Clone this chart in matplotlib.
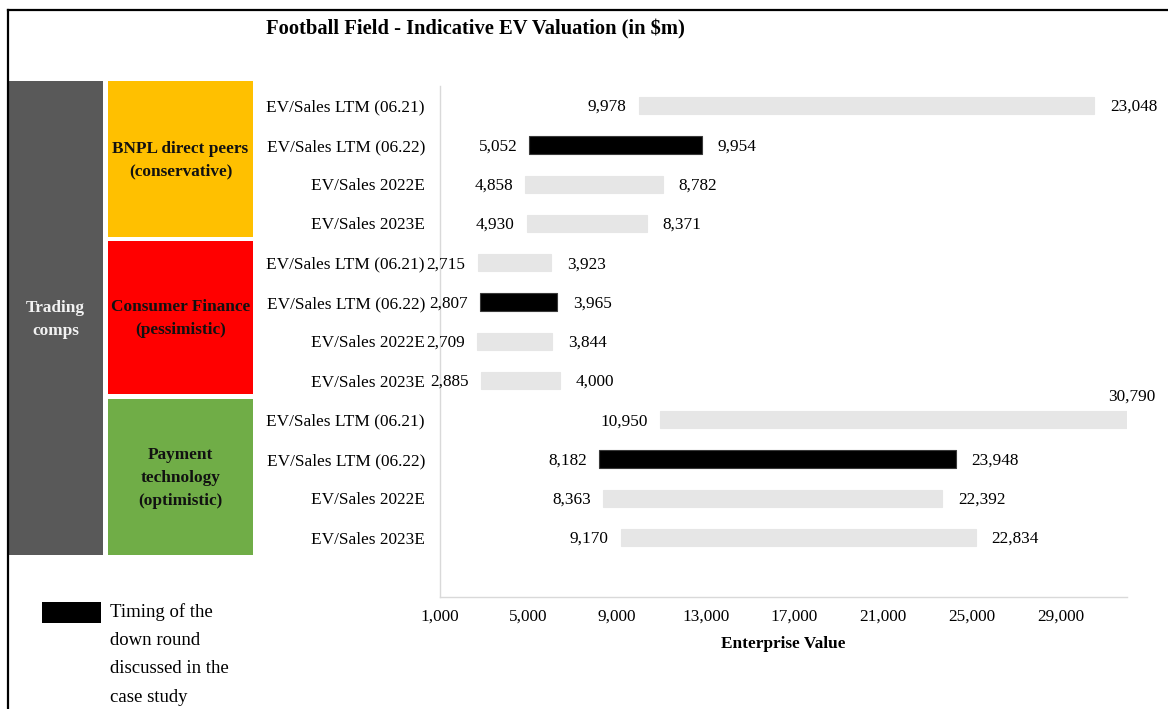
import matplotlib
matplotlib.use("Agg")
import matplotlib.pyplot as plt
from matplotlib.patches import Rectangle
from matplotlib.lines import Line2D

plt.rcParams['font.family'] = ['Liberation Serif', 'DejaVu Serif']

# ---------------- data ----------------
categories = [
    "EV/Sales LTM (06.21)", "EV/Sales LTM (06.22)", "EV/Sales 2022E", "EV/Sales 2023E",
    "EV/Sales LTM (06.21)", "EV/Sales LTM (06.22)", "EV/Sales 2022E", "EV/Sales 2023E",
    "EV/Sales LTM (06.21)", "EV/Sales LTM (06.22)", "EV/Sales 2022E", "EV/Sales 2023E",
]
low_values = [9978, 5052, 4858, 4930, 2715, 2807, 2709, 2885, 10950, 8182, 8363, 9170]
high_values = [23048, 9954, 8782, 8371, 3923, 3965, 3844, 4000, 30790, 23948, 22392, 22834]
# right end of each drawn bar (its bar lengths do not
# follow the labelled high values)
bar_end_drawn = [30530, 12820, 11070, 10350, 6020, 6290, 6070, 6430, 32000, 24270, 23680, 25170]
down_round = [False, True, False, False, False, True, False, False, False, True, False, False]

groups = ["BNPL direct peers\n(conservative)", "Consumer Finance\n(pessimistic)",
          "Payment\ntechnology\n(optimistic)"]
group_colors = ["#FFC000", "#FF0000", "#70AD47"]
side_label = "Trading\ncomps"

x_ticks = [1000, 5000, 9000, 13000, 17000, 21000, 25000, 29000]
x_min, x_max = 1000, 32000

title = "Football Field - Indicative EV Valuation (in $m)"
x_label = "Enterprise Value"
legend_text = "Timing of the\ndown round\ndiscussed in the\ncase study"

FS = 12.4

# ---------------- layout ----------------
W, H = 1168, 709
fig = plt.figure(figsize=(W / 100, H / 100), dpi=100)


def fx(x):
    return x / W


def fy(y):
    return 1 - y / H


ax = fig.add_axes([fx(439.5), fy(596.5), fx(1127) - fx(439.5), fy(86) - fy(596.5)])

n = len(categories)
ypos = list(range(n))
widths = [e - l for l, e in zip(low_values, bar_end_drawn)]
colors = ["#000000" if d else "#E6E6E6" for d in down_round]
edges = ["#3A3A3A" if d else "#E6E6E6" for d in down_round]
ax.barh(ypos, widths, left=low_values, height=0.44, color=colors,
        edgecolor=edges, linewidth=0.8, zorder=2)

ax.set_ylim(n + 0.5, -0.5)
ax.set_xlim(x_min, x_max)
ax.set_yticks(ypos)
ax.set_yticklabels(categories, fontsize=FS)
ax.set_xticks(x_ticks)
ax.set_xticklabels([f"{t:,}" for t in x_ticks], fontsize=FS)
ax.tick_params(axis='both', length=0)
ax.tick_params(axis='y', pad=10.5)
ax.tick_params(axis='x', pad=9)
ax.set_xlabel(x_label, fontsize=FS, fontweight='bold', labelpad=8)

for s in ['top', 'right']:
    ax.spines[s].set_visible(False)
for s in ['left', 'bottom']:
    ax.spines[s].set_color('#D9D9D9')
    ax.spines[s].set_linewidth(1.0)

for i, (lo, hi, end) in enumerate(zip(low_values, high_values, bar_end_drawn)):
    ax.annotate(f"{lo:,}", xy=(lo, i), xytext=(-12, -1.5), textcoords='offset pixels',
                ha='right', va='center', fontsize=FS, annotation_clip=False)
    if end >= x_max:
        ax.annotate(f"{hi:,}", xy=(end, i), xytext=(5, 23), textcoords='offset pixels',
                    ha='center', va='center', fontsize=FS, annotation_clip=False)
    else:
        ax.annotate(f"{hi:,}", xy=(end, i), xytext=(16, -1.5), textcoords='offset pixels',
                    ha='left', va='center', fontsize=FS, annotation_clip=False)

# ---------------- title ----------------
fig.text(fx(475), fy(29.5), title, ha='center', va='center', fontsize=14.8, fontweight='bold')

# ---------------- left group boxes ----------------
def box(x0, y0, x1, y1, color):
    fig.patches.append(Rectangle((fx(x0), fy(y1)), fx(x1) - fx(x0), fy(y0) - fy(y1),
                                 transform=fig.transFigure, facecolor=color,
                                 edgecolor='none', zorder=1))


box(8, 81, 103, 555, "#595959")
fig.text(fx(55.5), fy(319.5), side_label, ha='center', va='center', fontsize=FS,
         fontweight='bold', color='#F2F2F2', linespacing=1.55)

group_boxes = [(81, 237), (241, 394), (399, 555)]
for (y0, y1), c, g in zip(group_boxes, group_colors, groups):
    box(108, y0, 253, y1, c)
    fig.text(fx(180.5), fy((y0 + y1) / 2 + 1), g, ha='center', va='center', fontsize=FS,
             fontweight='bold', color='#111111', linespacing=1.55)

# ---------------- legend ----------------
box(42, 602, 101, 623, "#000000")
fig.text(fx(110), fy(603.5), legend_text, ha='left', va='top', fontsize=13.5,
         linespacing=1.85)

# ---------------- frame (top and left edges of screenshot) ----------------
fig.lines.append(Line2D([fx(8), 1], [fy(10), fy(10)], transform=fig.transFigure,
                        color='black', linewidth=1.6))
fig.lines.append(Line2D([fx(8), fx(8)], [fy(10), 0], transform=fig.transFigure,
                        color='black', linewidth=1.6))

fig.savefig("out.png", dpi=100)
